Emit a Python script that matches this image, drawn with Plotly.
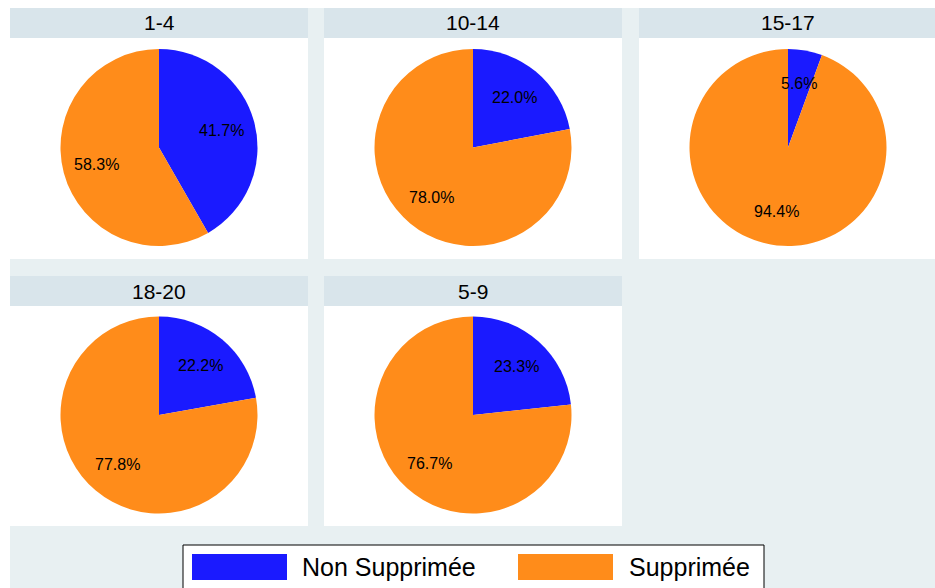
import math
import plotly.graph_objects as go

# ---- data ----
groups = ["1-4", "10-14", "15-17", "18-20", "5-9"]
labels = ["Non Supprimée", "Supprimée"]
non_supprimee = [41.7, 22.0, 5.6, 22.2, 23.3]
supprimee = [58.3, 78.0, 94.4, 77.8, 76.7]
colors = ["#1A1AFF", "#FF8C1A"]

# ---- layout geometry (pixels) ----
W, H = 935, 588
BG = "#E8F0F2"
HEAD = "#D9E5EB"
col_x = [(10, 308), (324, 622), (639, 937)]
row_y = [(8, 38, 259), (276, 306, 526)]  # header top, header bottom/plot top, plot bottom
R = 98.5
LABEL_R = 0.66

def px(x):
    return x / W

def py(y):
    return 1 - y / H

fig = go.Figure()
shapes = []
annotations = []

# outer light background
shapes.append(dict(type="rect", xref="paper", yref="paper", x0=px(10), x1=px(W + 5),
                   y0=py(H + 5), y1=py(8), fillcolor=BG, line_width=0, layer="below"))

for i, g in enumerate(groups):
    r, c = divmod(i, 3)
    x0, x1 = col_x[c]
    ht, hb, pb = row_y[r]
    # header strip and white panel
    shapes.append(dict(type="rect", xref="paper", yref="paper", x0=px(x0), x1=px(x1),
                       y0=py(hb), y1=py(ht), fillcolor=HEAD, line_width=0, layer="below"))
    shapes.append(dict(type="rect", xref="paper", yref="paper", x0=px(x0), x1=px(x1),
                       y0=py(pb), y1=py(hb), fillcolor="white", line_width=0, layer="below"))
    annotations.append(dict(text=g, xref="paper", yref="paper", x=px((x0 + x1) / 2),
                            y=py((ht + hb) / 2), showarrow=False, xanchor="center",
                            yanchor="middle", font=dict(size=21, color="black",
                                                        family="Liberation Sans, Arial")))
    cx = (x0 + x1) / 2
    cy = (hb + pb) / 2 - 1
    vals = [non_supprimee[i], supprimee[i]]
    fig.add_trace(go.Pie(
        labels=labels, values=vals, sort=False, direction="clockwise", rotation=0,
        marker=dict(colors=colors, line=dict(width=0)), textinfo="none",
        hoverinfo="label+percent", showlegend=False,
        domain=dict(x=[px(cx - R), px(cx + R)], y=[py(cy + R), py(cy - R)]),
    ))
    total = sum(vals)
    cum = 0
    for v in vals:
        f = (cum + v / 2) / total
        th = 2 * math.pi * f
        lx = cx + LABEL_R * R * math.sin(th)
        ly = cy - LABEL_R * R * math.cos(th)
        annotations.append(dict(text=f"{100 * v / total:.1f}%", xref="paper", yref="paper",
                                x=px(lx), y=py(ly), showarrow=False, xanchor="center",
                                yanchor="middle",
                                font=dict(size=16, color="black",
                                          family="Liberation Sans, Arial")))
        cum += v

# ---- custom legend ----
shapes.append(dict(type="rect", xref="paper", yref="paper", x0=px(183), x1=px(764),
                   y0=py(H + 20), y1=py(545), fillcolor="white",
                   line=dict(color="black", width=1), layer="below"))
leg_sw_x = [192, 518]
leg_tx_x = [300, 627]
for k, lab in enumerate(labels):
    shapes.append(dict(type="rect", xref="paper", yref="paper", x0=px(leg_sw_x[k]),
                       x1=px(leg_sw_x[k] + 95), y0=py(580), y1=py(554),
                       fillcolor=colors[k], line_width=0, layer="above"))
    annotations.append(dict(text=lab, xref="paper", yref="paper", x=px(leg_tx_x[k]),
                            y=py(567), showarrow=False, xanchor="left", yanchor="middle",
                            font=dict(size=25, color="black",
                                      family="Liberation Sans, Arial")))

fig.update_layout(
    width=W, height=H, margin=dict(l=0, r=0, t=0, b=0),
    paper_bgcolor="white", plot_bgcolor="white",
    shapes=shapes, annotations=annotations, showlegend=False,
)

fig.write_html("out.html")
